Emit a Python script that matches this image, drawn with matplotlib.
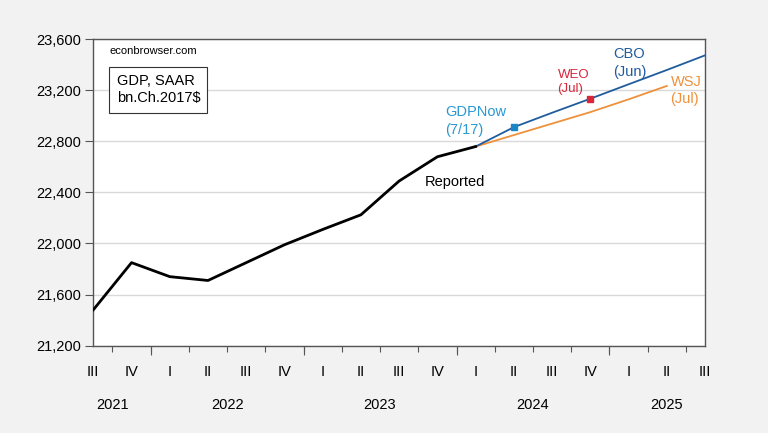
import numpy as np
import matplotlib; matplotlib.use('Agg')
import matplotlib.pyplot as plt

plt.rcParams['font.family'] = ['Liberation Sans', 'DejaVu Sans']

# quarters 2021Q3 .. 2025Q3
quarters = ['III', 'IV', 'I', 'II', 'III', 'IV', 'I', 'II', 'III', 'IV',
            'I', 'II', 'III', 'IV', 'I', 'II', 'III']
years = ['2021', '2022', '2023', '2024', '2025']
year_centers = [0.5, 3.5, 7.5, 11.5, 15.0]
year_breaks = [1.5, 5.5, 9.5, 13.5]

reported = [21480, 21850, 21740, 21710, 21850, 21990, 22110, 22225, 22490, 22680, 22760]
cbo_idx = [10, 11, 12, 13, 14, 15, 16]
cbo = [22760, 22912, 23025, 23135, 23248, 23360, 23475]
wsj_idx = [10, 11, 12, 13, 14, 15]
wsj = [22760, 22850, 22940, 23030, 23130, 23235]
gdpnow_idx, gdpnow = 11, 22912
weo_idx, weo = 13, 23135

fig = plt.figure(figsize=(7.68, 4.33), dpi=100, facecolor='#f2f2f2')
ax = fig.add_axes([0.1215, 0.202, 0.7965, 0.707])
ax.set_facecolor('white')

ax.plot(range(len(reported)), reported, color='black', lw=2.0, zorder=4)
ax.plot(cbo_idx, cbo, color='#1f5c9e', lw=1.3, zorder=3)
ax.plot(wsj_idx, wsj, color='#ee913b', lw=1.3, zorder=2)
ax.plot(gdpnow_idx, gdpnow, marker='s', ms=4.5, color='#1a86c8', ls='none', zorder=5)
ax.plot(weo_idx, weo, marker='s', ms=4.5, color='#d8263a', ls='none', zorder=5)

ax.set_xlim(0, 16)
ax.set_ylim(21200, 23600)
yt = np.arange(21200, 23601, 400)
ax.set_yticks(yt)
ax.set_yticklabels([f'{v:,}' for v in yt], fontsize=10.5)
ax.yaxis.grid(True, color='#d9d9d9', lw=1)
ax.set_axisbelow(True)
ax.tick_params(axis='y', length=6, width=0.8, color='#555555', pad=3)

ax.set_xticks(range(len(quarters)))
ax.set_xticklabels(quarters, fontsize=10.5)
ax.tick_params(axis='x', which='major', length=0, pad=14)
ax.set_xticks(np.arange(0.5, 16, 1), minor=True)
ax.tick_params(axis='x', which='minor', length=4, width=0.8, color='#555555')
tr = ax.get_xaxis_transform()
ax.vlines(year_breaks, 0, -0.03, transform=tr, color='#555555', lw=0.8, clip_on=False)
for yr, xc in zip(years, year_centers):
    ax.text(xc, -0.195, yr, transform=tr, ha='center', va='center', fontsize=10.5)

for s in ax.spines.values():
    s.set_color('#555555'); s.set_linewidth(1.0)

ax.text(0.026, 0.963, 'econbrowser.com', transform=ax.transAxes, fontsize=8, va='center')
ax.text(0.038, 0.836, 'GDP, SAAR\nbn.Ch.2017$', transform=ax.transAxes, fontsize=10.5,
        va='center', linespacing=1.3,
        bbox=dict(boxstyle='square,pad=0.5', fc='white', ec='#333333', lw=0.8))

ax.text(8.66, 22480, 'Reported', fontsize=10.5, va='center')
ax.text(9.2, 22960, 'GDPNow\n(7/17)', fontsize=10.5, color='#2a98d2', va='center', linespacing=1.3)
ax.text(12.14, 23265, 'WEO\n(Jul)', fontsize=9.5, color='#d8263a', va='center', linespacing=1.3)
ax.text(13.6, 23414, 'CBO\n(Jun)', fontsize=10.5, color='#1f5c9e', va='center', linespacing=1.3)
ax.text(15.1, 23202, 'WSJ\n(Jul)', fontsize=10.5, color='#ee913b', va='center', linespacing=1.3)

fig.savefig('out.png', dpi=100, facecolor=fig.get_facecolor())
